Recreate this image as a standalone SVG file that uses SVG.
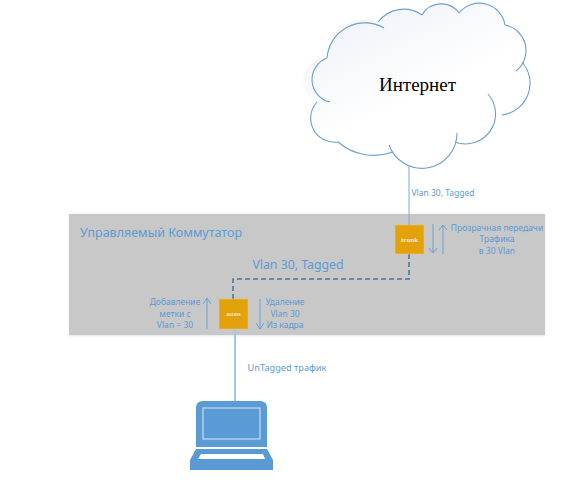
<svg xmlns="http://www.w3.org/2000/svg" width="582" height="491" viewBox="0 0 582 491">
<style>
.t{font-family:"Noto Sans","Open Sans",sans-serif;fill:#5b9bd5;text-anchor:middle}
.s{font-size:8.5px}
.a{fill:none;stroke:#6a9fd0;stroke-width:1}
.sq{fill:#e3a20c;stroke:#e8c77a;stroke-width:.5}
.sqt{font-family:"Liberation Serif",serif;fill:#f6edd2;text-anchor:middle;font-weight:bold}
.cl{fill:none;stroke:#6f9fcf;stroke-width:1.1}
</style>
<defs>
<linearGradient id="g" x1="0.1" y1="0" x2="0.5" y2="0.6"><stop offset="0" stop-color="#eef1f8"/><stop offset="1" stop-color="#fff"/></linearGradient>
<filter id="sh" x="-5%" y="-5%" width="110%" height="110%"><feGaussianBlur stdDeviation="1.2"/></filter>
</defs>
<g id="cloud">
<path fill="url(#g)" d="M327 58A38 38 0 0 1 378 22A32 32 0 0 1 422 15A22 22 0 0 1 459 13A26 26 0 0 1 505 25A26 26 0 0 1 522 62A32 32 0 0 1 502 115A30 30 0 0 1 455 142A35 35 0 0 1 393 152A55 55 0 0 1 338 142A24 24 0 0 1 317 102A23 23 0 0 1 327 58Z"/>
<g class="cl">
<path d="M327 58A38 38 0 0 1 384 28"/>
<path d="M378 22A32 32 0 0 1 422 15"/>
<path d="M422 15A22 22 0 0 1 459 13"/>
<path d="M459 13A26 26 0 0 1 505 25"/>
<path d="M505 25A26 26 0 0 1 516 71"/>
<path d="M522 62A32 32 0 0 1 502 115"/>
<path d="M488 94A30 30 0 0 1 455 142"/>
<path d="M457 133A35 35 0 0 1 389 145"/>
<path d="M393 152A55 55 0 0 1 338 142"/>
<path d="M338 142A24 24 0 0 1 317 102"/>
<path d="M330 102A23 23 0 0 1 327 58"/>
</g>
<text x="417.500" y="91" font-family="Liberation Serif,serif" font-size="19" fill="#000" text-anchor="middle">Интернет</text>
</g>
<g id="switch">
<rect x="69" y="214" width="476" height="122" fill="#c9d6e4" opacity=".6" filter="url(#sh)"/>
<rect x="69" y="214" width="476" height="121" fill="#c8c8c8"/>
<text class="t" x="161" y="237" font-size="12.500">Управляемый Коммутатор</text>
</g>
<g id="connectors">
<path d="M409 165V225" fill="none" stroke="#7ea8d6" stroke-width="1"/>
<path d="M409 254V279H233V299" fill="none" stroke="#44719c" stroke-width="1.500" stroke-dasharray="5 3"/>
<path d="M235 329V405" fill="none" stroke="#a6c6e6" stroke-width="2"/>
<path class="a" d="M433 224V253M429 248L433 253L437 248"/>
<path class="a" d="M443 254V225M439 230L443 225L447 230"/>
<path class="a" d="M207 329V298M203 304L207 298L211 304"/>
<path class="a" d="M260 299V329M256 323L260 329L264 323"/>
</g>
<g id="trunk">
<rect class="sq" x="395" y="225" width="29" height="29"/>
<text class="sqt" x="409.500" y="242" font-size="7">trunk</text>
</g>
<g id="access">
<rect class="sq" x="219" y="299" width="29" height="30"/>
<text class="sqt" x="233.500" y="316" font-size="5.500">access</text>
</g>
<g id="laptop">
<path d="M196 447V408Q196 401 203 401H260Q267 401 267 408V447Z" fill="#5b9bd5"/>
<rect x="203" y="408" width="57" height="31" fill="#5b9bd5" stroke="#dbe8f5" stroke-width="1"/>
<path d="M196 449H267L273 460V470H190V460Z" fill="#5b9bd5"/>
<path d="M201 454H263L265 459H198Z" fill="#fff"/>
</g>
<g id="labels">
<text class="t s" x="443" y="196">Vlan 30, Tagged</text>
<text class="t s" x="497" y="231">Прозрачная передачи</text>
<text class="t s" x="497" y="242">Трафика</text>
<text class="t s" x="497" y="254">в 30 Vlan</text>
<text class="t" x="298" y="269" font-size="12.300">Vlan 30, Tagged</text>
<text class="t s" x="175" y="305">Добавление</text>
<text class="t s" x="175" y="317">метки с</text>
<text class="t s" x="175" y="328">Vlan = 30</text>
<text class="t s" x="285" y="305">Удаление</text>
<text class="t s" x="285" y="317">Vlan 30</text>
<text class="t s" x="285" y="328">Из кадра</text>
<text class="t" x="287" y="371" font-size="9.200">UnTagged трафик</text>
</g>
</svg>
